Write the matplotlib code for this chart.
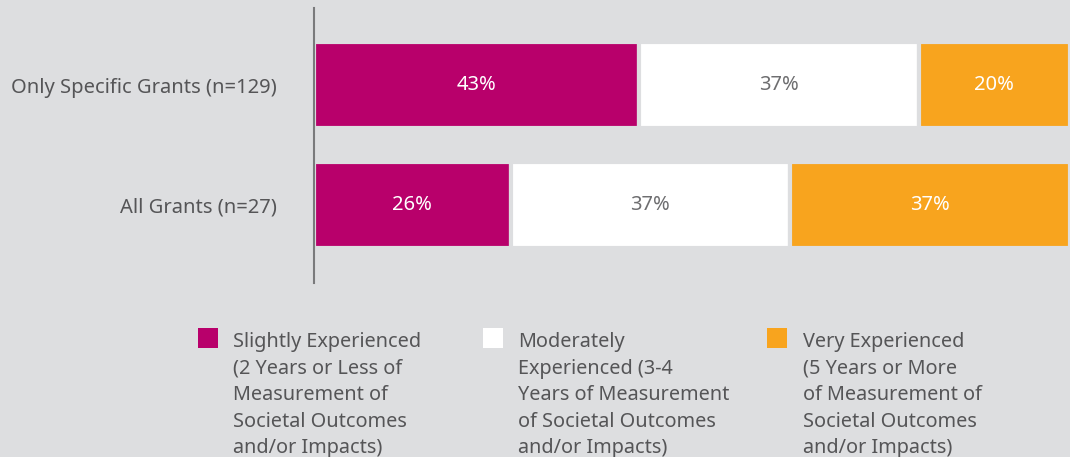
import matplotlib
matplotlib.use("Agg")
import matplotlib.pyplot as plt
from matplotlib.patches import Rectangle
import numpy as np

categories = ["All Grants (n=27)", "Only Specific Grants (n=129)"]
series_names = ["Slightly Experienced", "Moderately Experienced", "Very Experienced"]
slightly = [26, 43]
moderately = [37, 37]
very = [37, 20]
legend_labels = [
    "Slightly Experienced\n(2 Years or Less of\nMeasurement of\nSocietal Outcomes\nand/or Impacts)",
    "Moderately\nExperienced (3-4\nYears of Measurement\nof Societal Outcomes\nand/or Impacts)",
    "Very Experienced\n(5 Years or More\nof Measurement of\nSocietal Outcomes\nand/or Impacts)",
]

BG = "#dddee0"
colors = ["#b8006b", "#ffffff", "#f8a41e"]
label_colors = ["#ffffff", "#6e6e70", "#ffffff"]
TXT = "#555557"
FONT = ["Noto Sans", "DejaVu Sans"]
plt.rcParams['font.family'] = FONT

W, H = 1070, 457
fig = plt.figure(figsize=(W/100, H/100), dpi=100, facecolor=BG)
ax = fig.add_axes([314/W, (H-283)/H, 1-314/W, 275/H])
ax.set_facecolor(BG)

y = np.arange(len(categories))
series = [slightly, moderately, very]
left = np.zeros(len(categories))
for vals, c, lc in zip(series, colors, label_colors):
    vals = np.array(vals, dtype=float)
    bars = ax.barh(y, vals, left=left, height=0.717, color=c, edgecolor=BG, linewidth=3)
    for b, v in zip(bars, vals):
        ax.text(b.get_x() + b.get_width()/2, b.get_y() + b.get_height()/2, f"{v:.0f}%",
                ha="center", va="center", color=lc, fontsize=14.5, fontweight="medium")
    left += vals

ax.set_xlim(0, 100)
ax.set_ylim(-0.65, 1.642)
ax.set_yticks(y)
ax.set_yticklabels(categories, fontsize=14.5, color=TXT)
ax.tick_params(axis="y", length=0, pad=26.5)
ax.set_xticks([])
for s in ["top", "right", "bottom"]:
    ax.spines[s].set_visible(False)
ax.spines["left"].set_color("#7a7a7c")
ax.spines["left"].set_linewidth(1.5)
ax.spines["left"].set_zorder(5)

# legend
sq_x = [198, 483, 767]
txt_x = [233, 518, 803]
for sx, tx, c, lab in zip(sq_x, txt_x, colors, legend_labels):
    fig.patches.append(Rectangle((sx/W, (H-348)/H), 20/W, 20/H, transform=fig.transFigure,
                                 facecolor=c, edgecolor="none"))
    fig.text(tx/W, (H-332)/H, lab, ha="left", va="top", fontsize=14.3, color=TXT,
             linespacing=1.44)

fig.savefig("out.png", dpi=100, facecolor=BG)
